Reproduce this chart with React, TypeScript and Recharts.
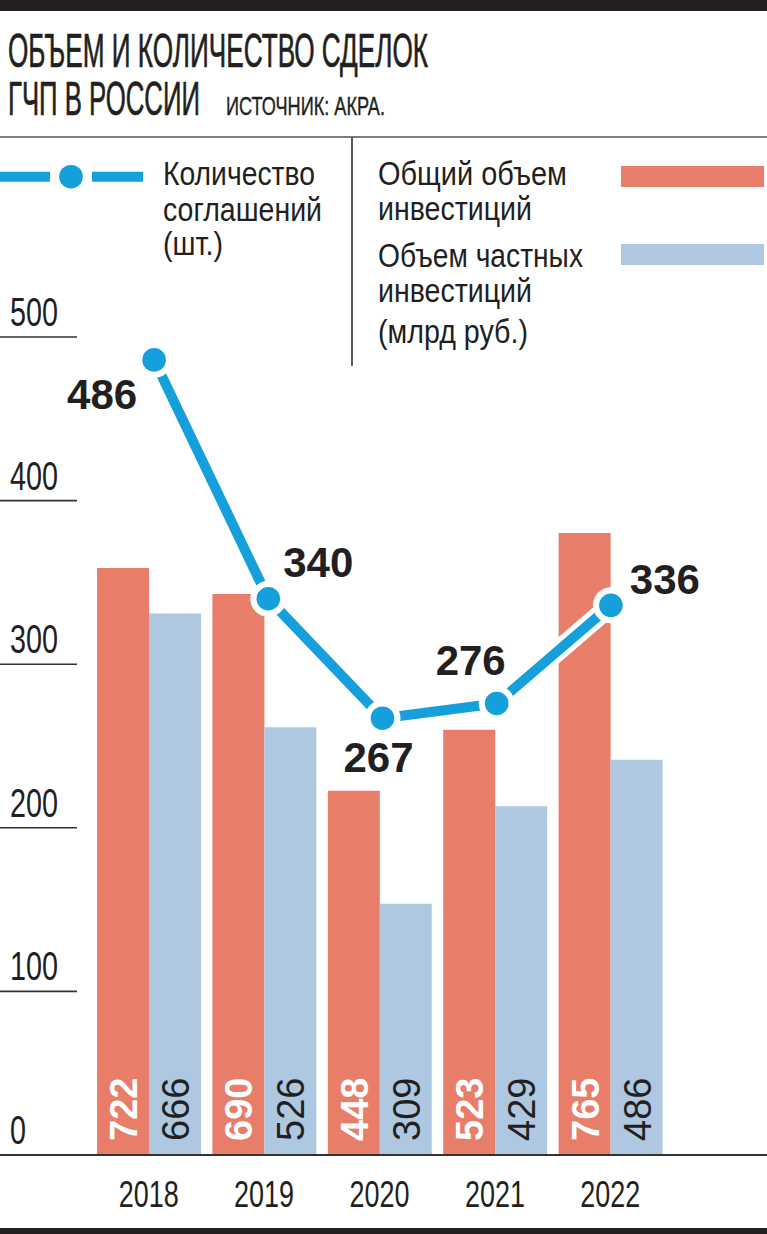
import React from "react";
import { ComposedChart, Bar, Line, XAxis, YAxis, LabelList } from "recharts";

const years = ["2018", "2019", "2020", "2021", "2022"];
const totalInvest = [722, 690, 448, 523, 765];
const privateInvest = [666, 526, 309, 429, 486];
const dealCount = [486, 340, 267, 276, 336];
const countTicks = [0, 100, 200, 300, 400, 500];
const investTicks = [0, 200, 400, 600, 800, 1000];

const data = years.map((y, i) => ({
  year: y,
  total: totalInvest[i],
  priv: privateInvest[i],
  count: dealCount[i],
}));

const INK = "#231f20";
const RED = "#e87e69";
const LIGHT = "#adc8e0";
const BLUE = "#159fdb";
const FONT = "'Liberation Sans', Arial, sans-serif";

// label offsets for the line values (relative to each point)
const lineLabelOffsets = [
  [-52, 49],
  [50, -22],
  [-4, 54],
  [-26, -28],
  [54, -11],
];

const CondText = ({ x, y, w, size, sx = 0.8, anchor = "start", children, fill = INK, sw = 0 }: any) => (
  <text
    transform={`translate(${x}, ${y}) scale(${sx}, 1)`}
    x={0}
    y={0}
    fontFamily={FONT}
    fontSize={size}
    fill={fill}
    stroke={sw ? fill : "none"}
    strokeWidth={sw}
    textAnchor={anchor}
    textLength={w / sx}
    lengthAdjust="spacingAndGlyphs"
  >
    {children}
  </text>
);

const LeftTick = (p: any) => {
  const v = String(p.payload.value);
  return (
    <g>
      <CondText x={10} y={p.y - 11} w={16 * v.length} size={41} sx={0.7}>
        {v}
      </CondText>
      {p.payload.value !== 0 && (
        <line x1={0} x2={77} y1={p.y} y2={p.y} stroke="#333" strokeWidth={1.6} />
      )}
    </g>
  );
};

const RightTick = (p: any) => {
  const v = String(p.payload.value);
  return (
    <g>
      <CondText x={755} y={p.y - 11} w={16 * v.length} size={41} sx={0.7} anchor="end">
        {v}
      </CondText>
      {p.payload.value !== 0 && (
        <line x1={687} x2={767} y1={p.y} y2={p.y} stroke="#333" strokeWidth={1.6} />
      )}
    </g>
  );
};

const XTick = (p: any) => (
  <CondText x={p.x} y={1207} w={60} size={37} sx={0.73} anchor="middle">
    {p.payload.value}
  </CondText>
);

const barLabel = (color: string, weight: string) => (props: any) => {
  const vb = props.viewBox || props;
  const x = vb.x ?? props.x;
  const y = vb.y ?? props.y;
  const w = vb.width ?? props.width;
  const h = vb.height ?? props.height;
  const cx = x + w / 2;
  const bottom = y + h;
  return (
    <text
      transform={`translate(${cx + 14}, ${bottom - 14}) rotate(-90)`}
      x={0}
      y={0}
      fontFamily={FONT}
      fontSize={38}
      fontWeight={weight}
      fill={color}
      textAnchor="start"
    >
      {props.value}
    </text>
  );
};

const lineLabel = (props: any) => {
  const vb = props.viewBox || {};
  const x = props.x ?? vb.x;
  const y = props.y ?? vb.y;
  const i = props.index ?? 0;
  const off = lineLabelOffsets[i] || [0, 0];
  return (
    <text
      x={x + off[0]}
      y={y + off[1]}
      fontFamily={FONT}
      fontSize={42}
      fontWeight="bold"
      fill={INK}
      textAnchor="middle"
    >
      {props.value}
    </text>
  );
};

const Dot = (p: any) => (
  <g key={`dot-${p.index}`}>
    <circle cx={p.cx} cy={p.cy} r={18} fill="#fff" />
    <circle cx={p.cx} cy={p.cy} r={11.8} fill={BLUE} />
  </g>
);

const TSX = 0.56;

const Overlay = () => (
  <svg
    width={767}
    height={1234}
    style={{ position: "absolute", left: 0, top: 0, pointerEvents: "none" }}
  >
    <rect x={0} y={0} width={767} height={11} fill={INK} />
    <text
      transform={`scale(${TSX}, 1)`}
      fontFamily={FONT}
      fontSize={47.5}
      fill={INK}
      stroke={INK}
      strokeWidth={0.7}
    >
      <tspan x={8 / TSX} y={67} textLength={420 / TSX} lengthAdjust="spacingAndGlyphs">
        ОБЪЕМ И КОЛИЧЕСТВО СДЕЛОК
      </tspan>
      <tspan x={8 / TSX} y={115} textLength={192 / TSX} lengthAdjust="spacingAndGlyphs">
        ГЧП В РОССИИ
      </tspan>
    </text>
    <CondText x={226} y={115} w={159} size={25.5} sx={0.63} sw={0.4}>
      ИСТОЧНИК: АКРА.
    </CondText>
    <line x1={0} x2={767} y1={137} y2={137} stroke="#555" strokeWidth={1.6} />
    <line x1={352} x2={352} y1={137} y2={366} stroke="#333" strokeWidth={1.6} />

    {/* left legend */}
    <line x1={0} x2={50} y1={176.7} y2={176.7} stroke={BLUE} strokeWidth={10} />
    <circle cx={71} cy={176.7} r={11.8} fill={BLUE} />
    <line x1={92} x2={143} y1={176.7} y2={176.7} stroke={BLUE} strokeWidth={10} />
    <CondText x={163} y={185} w={152} size={32.5} sx={0.85}>
      Количество
    </CondText>
    <CondText x={163} y={220.5} w={159} size={32.5} sx={0.85}>
      соглашений
    </CondText>
    <CondText x={163} y={255} w={60} size={32.5} sx={0.85}>
      (шт.)
    </CondText>

    {/* right legend */}
    <CondText x={378} y={185} w={189} size={32.5} sx={0.85}>
      Общий объем
    </CondText>
    <CondText x={378} y={220} w={154} size={32.5} sx={0.85}>
      инвестиций
    </CondText>
    <CondText x={378} y={266.5} w={205} size={32.5} sx={0.85}>
      Объем частных
    </CondText>
    <CondText x={378} y={301.5} w={154} size={32.5} sx={0.85}>
      инвестиций
    </CondText>
    <CondText x={378} y={343} w={150} size={32.5} sx={0.85}>
      (млрд руб.)
    </CondText>
    <rect x={621} y={166} width={143} height={21} fill={RED} />
    <rect x={621} y={244} width={143} height={21} fill={LIGHT} />

    <line x1={0} x2={767} y1={1155} y2={1155} stroke="#333" strokeWidth={2} />
    <rect x={0} y={1228} width={767} height={6} fill={INK} />
  </svg>
);

export default function App() {
  return (
    <div
      style={{
        position: "absolute",
        left: 0,
        top: 0,
        width: 767,
        height: 1234,
        background: "#fff",
      }}
    >
      <ComposedChart
        width={767}
        height={1234}
        data={data}
        margin={{ top: 337, right: 0, bottom: 0, left: 0 }}
        barGap={0}
        barSize={52}
      >
        <XAxis
          xAxisId="bars"
          dataKey="year"
          height={79}
          axisLine={false}
          tickLine={false}
          tick={XTick}
          interval={0}
        />
        <XAxis xAxisId="line" dataKey="year" hide padding={{ left: 6, right: 0 }} />
        <YAxis
          yAxisId="count"
          orientation="left"
          width={91}
          domain={[0, 500]}
          ticks={countTicks}
          axisLine={false}
          tickLine={false}
          tick={LeftTick}
          interval={0}
        />
        <YAxis
          yAxisId="invest"
          orientation="right"
          width={99}
          domain={[0, 1000]}
          ticks={investTicks}
          axisLine={false}
          tickLine={false}
          tick={RightTick}
          interval={0}
        />
        <YAxis yAxisId="barScale" hide domain={[0, 1006]} />
        <Bar
          dataKey="total"
          xAxisId="bars"
          yAxisId="barScale"
          fill={RED}
          isAnimationActive={false}
        >
          <LabelList dataKey="total" content={barLabel("#fff", "bold")} />
        </Bar>
        <Bar
          dataKey="priv"
          xAxisId="bars"
          yAxisId="barScale"
          fill={LIGHT}
          isAnimationActive={false}
        >
          <LabelList dataKey="priv" content={barLabel(INK, "normal")} />
        </Bar>
        <Line
          dataKey="count"
          xAxisId="line"
          yAxisId="count"
          stroke="#fff"
          strokeWidth={20}
          dot={false}
          activeDot={false}
          isAnimationActive={false}
        />
        <Line
          dataKey="count"
          xAxisId="line"
          yAxisId="count"
          stroke={BLUE}
          strokeWidth={10}
          dot={Dot}
          activeDot={false}
          isAnimationActive={false}
        >
          <LabelList dataKey="count" content={lineLabel} />
        </Line>
      </ComposedChart>
      <Overlay />
    </div>
  );
}
